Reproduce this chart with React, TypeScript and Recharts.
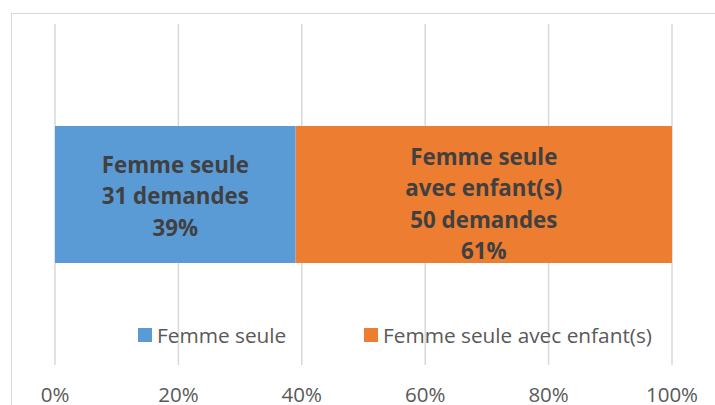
import React from "react";
import { BarChart, Bar, XAxis, YAxis, CartesianGrid, LabelList } from "recharts";

const categories = ["Demandes"];
const seriesNames = ["Femme seule", "Femme seule avec enfant(s)"];
const seriesLabelLines = [["Femme seule"], ["Femme seule", "avec enfant(s)"]];
const seriesCounts = [31, 50];
const seriesPercents = [39, 61];
const seriesColors = ["#5B9BD5", "#ED7D31"];
const xTicks = [0, 20, 40, 60, 80, 100];

const data = categories.map((c) => {
  const row: any = { name: c };
  seriesNames.forEach((_, i) => {
    row["s" + i] = seriesPercents[i];
  });
  return row;
});

const FONT = "'Open Sans', sans-serif";

const makeLabel = (i: number, dyShift: number) => (props: any) => {
  const { x, y, width, height } = props;
  const lines = [
    ...seriesLabelLines[i],
    `${seriesCounts[i]} demandes`,
    `${seriesPercents[i]}%`,
  ];
  const lh = 31.5;
  const cx = x + width / 2;
  const cy = y + height / 2 + dyShift;
  const start = cy - ((lines.length - 1) * lh) / 2;
  return (
    <text
      x={cx}
      textAnchor="middle"
      fontFamily={FONT}
      fontWeight={700}
      fontSize={22.3}
      fill="#404040"
    >
      {lines.map((l, k) => (
        <tspan key={k} x={cx} y={start + k * lh} dominantBaseline="central">
          {l}
        </tspan>
      ))}
    </text>
  );
};

export default function App() {
  return (
    <div
      style={{
        position: "absolute",
        left: 0,
        top: 0,
        width: 715,
        height: 405,
        overflow: "hidden",
        background: "#fff",
      }}
    >
      <div
        style={{
          position: "absolute",
          left: 11,
          top: 13,
          width: 900,
          height: 600,
          border: "1.5px solid #d9d9d9",
          boxSizing: "border-box",
        }}
      />
      <div style={{ position: "absolute", left: 0, top: 0 }}>
        <BarChart
          width={715}
          height={405}
          data={data}
          layout="vertical"
          margin={{ top: 24, right: 43, bottom: 0, left: 55 }}
          barSize={137}
        >
          <CartesianGrid horizontal={false} stroke="#d9d9d9" strokeWidth={1.5} />
          <XAxis
            type="number"
            domain={[0, 100]}
            ticks={xTicks}
            tickFormatter={(v) => `${v}%`}
            axisLine={false}
            tickLine={false}
            height={40}
            tickMargin={16}
            interval={0}
            tick={{ fill: "#595959", fontSize: 20.5, fontFamily: FONT }}
          />
          <YAxis type="category" dataKey="name" hide />
          {seriesNames.map((n, i) => (
            <Bar
              key={n}
              dataKey={"s" + i}
              name={n}
              stackId="a"
              fill={seriesColors[i]}
              isAnimationActive={false}
            >
              <LabelList content={makeLabel(i, i === 1 ? 9 : 1)} />
            </Bar>
          ))}
        </BarChart>
      </div>
      {seriesNames.map((n, i) => (
        <div
          key={n}
          style={{
            position: "absolute",
            left: i === 0 ? 138 : 364,
            top: 321,
            height: 28,
            display: "flex",
            alignItems: "center",
            fontFamily: FONT,
            fontSize: 20.8,
            color: "#595959",
            whiteSpace: "nowrap",
          }}
        >
          <span
            style={{
              display: "inline-block",
              width: 14,
              height: 14,
              background: seriesColors[i],
              marginRight: 5,
            }}
          />
          <span>{n}</span>
        </div>
      ))}
    </div>
  );
}
